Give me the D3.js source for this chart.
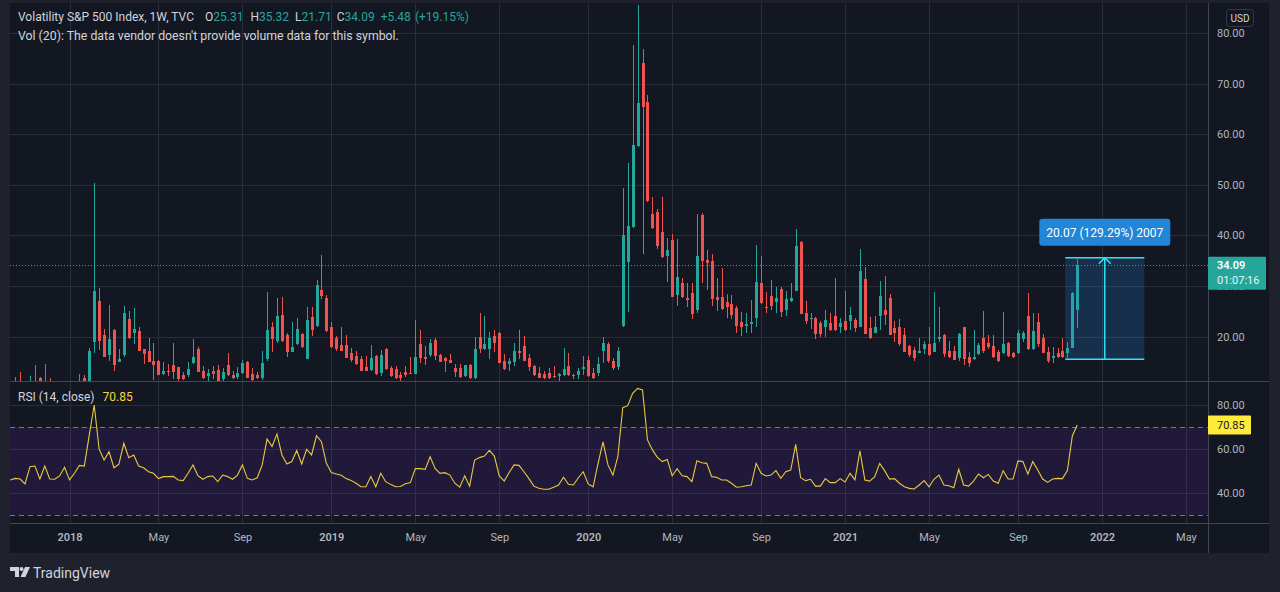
<!DOCTYPE html>
<html>
<head>
<meta charset="utf-8">
<script src="https://d3js.org/d3.v7.min.js"></script>
<style>
    body { margin: 0; background: #1f222d; }
    svg text { font-family: Roboto, "Noto Sans", sans-serif; }
</style>
</head>
<body>
<svg id="chart" width="1280" height="592"></svg>

<script>
    // TVC:VIX weekly bars, first bar is the week of 2017-10-09
    const firstWeek = "2017-10-09";

    const opens = [
        10.2, 9.8, 10.8, 10.0, 9.2, 10.5, 11.9, 9.7, 11.1, 10.3,
        10.1, 10.3, 10.9, 9.3, 10.2, 11.75, 11.1, 18.9, 27.1, 20.4,
        16.3, 21.4, 15.0, 16.3, 23.5, 20.8, 21.2, 17.5, 17.2, 15.2,
        15.2, 12.7, 13.3, 14.3, 13.9, 12.4, 12.5, 14.7, 17.5, 13.2,
        12.2, 13.2, 13.4, 11.6, 14.4, 12.4, 12.0, 12.9, 15.0, 12.6,
        12.4, 11.8, 15.6, 21.8, 19.1, 24.3, 20.4, 17.0, 18.5, 20.6,
        15.6, 23.8, 22.1, 29.2, 27.6, 21.8, 19.8, 18.4, 18.4, 16.7,
        16.2, 15.6, 13.9, 13.4, 16.2, 12.9, 17.6, 13.7, 13.5, 12.5,
        13.0, 12.8, 12.7, 18.5, 15.9, 16.4, 19.3, 16.3, 15.8, 15.4,
        13.7, 13.7, 12.2, 14.4, 11.8, 20.0, 17.5, 17.6, 20.2, 20.8,
        15.1, 14.6, 15.0, 17.2, 18.2, 15.7, 14.2, 12.8, 12.6, 12.9,
        12.2, 12.2, 12.4, 14.1, 12.3, 12.4, 13.5, 15.4, 12.8, 12.9,
        17.2, 18.5, 15.2, 13.9, 22.0, 34.7, 41.6, 57.7, 74.1, 66.3,
        44.2, 44.6, 40.7, 35.9, 39.1, 28.2, 30.5, 27.6, 28.7, 25.3,
        44.0, 35.1, 35.0, 27.8, 27.8, 26.9, 26.4, 25.7, 22.8, 22.1,
        22.5, 23.7, 30.5, 25.8, 28.0, 26.9, 29.5, 25.3, 27.1, 29.1,
        38.6, 24.6, 23.5, 23.7, 22.6, 21.8, 22.6, 24.1, 21.9, 23.0,
        23.0, 23.2, 21.9, 31.4, 21.7, 20.8, 24.1, 25.3, 27.6, 21.7,
        21.9, 20.4, 18.1, 17.4, 16.8, 17.6, 18.5, 17.0, 19.5, 20.4,
        17.2, 17.2, 15.7, 21.8, 16.0, 15.5, 16.6, 19.7, 18.7, 18.1,
        17.0, 16.7, 18.7, 16.8, 16.7, 19.5, 24.1, 17.5, 22.8, 19.8,
        17.0, 15.8, 16.7, 17.2, 16.8, 17.8, 25.31
    ];
    const highs = [
        10.6, 12.1, 13.1, 10.5, 12.2, 14.4, 12.1, 14.6, 11.8, 11.0,
        10.6, 11.1, 11.0, 10.5, 12.6, 12.4, 17.8, 50.3, 29.7, 21.5,
        26.2, 21.6, 17.5, 26.0, 25.0, 25.6, 21.9, 17.6, 19.7, 18.7,
        15.4, 15.0, 14.6, 18.7, 14.0, 13.0, 15.0, 19.5, 18.0, 14.1,
        13.5, 14.2, 14.4, 13.7, 16.8, 13.2, 14.0, 15.4, 15.1, 13.7,
        13.0, 17.2, 28.8, 22.8, 27.6, 27.8, 20.8, 22.9, 23.6, 20.7,
        25.8, 25.9, 31.2, 36.2, 28.3, 22.8, 20.1, 21.9, 20.3, 17.8,
        17.2, 16.1, 16.1, 18.3, 16.4, 17.3, 17.8, 14.2, 14.1, 13.0,
        14.1, 15.9, 23.3, 21.3, 18.1, 19.6, 19.8, 16.5, 16.0, 16.6,
        14.6, 14.6, 14.4, 14.5, 20.0, 24.7, 24.0, 21.0, 21.4, 21.0,
        16.6, 15.7, 18.7, 21.3, 20.2, 16.6, 14.3, 14.0, 13.3, 13.8,
        14.1, 12.8, 17.8, 16.7, 12.6, 13.7, 16.1, 16.2, 13.7, 15.9,
        20.0, 18.9, 15.8, 17.9, 49.4, 54.4, 77.6, 85.5, 76.9, 67.8,
        47.5, 45.2, 47.6, 39.5, 40.3, 39.3, 31.5, 30.5, 30.5, 44.2,
        44.4, 37.1, 36.3, 31.5, 33.6, 28.4, 28.3, 26.1, 24.9, 24.6,
        27.2, 38.1, 36.0, 28.8, 31.2, 29.9, 29.9, 29.1, 30.5, 41.2,
        38.9, 27.1, 24.6, 23.8, 23.0, 25.3, 24.7, 31.5, 23.7, 29.1,
        25.9, 23.7, 37.4, 33.8, 23.9, 24.1, 31.0, 31.9, 28.4, 23.1,
        23.4, 21.7, 18.3, 17.9, 19.8, 19.1, 21.8, 28.8, 25.9, 20.5,
        19.1, 18.2, 20.7, 21.9, 17.0, 21.3, 18.8, 25.1, 20.4, 20.4,
        17.4, 24.8, 19.0, 17.0, 21.3, 21.2, 28.7, 24.6, 24.6, 20.5,
        18.0, 18.0, 17.7, 19.8, 19.0, 28.9, 35.32
    ];
    const lows = [
        9.2, 9.2, 9.5, 9.0, 9.0, 10.4, 9.6, 9.4, 9.5, 9.4,
        9.4, 9.6, 8.9, 9.2, 10.0, 10.6, 10.9, 16.8, 17.4, 15.9,
        15.2, 13.3, 14.9, 16.0, 19.6, 18.5, 17.1, 14.6, 14.9, 11.5,
        12.4, 12.5, 12.3, 11.6, 11.3, 11.5, 12.1, 14.5, 13.0, 11.6,
        11.3, 11.6, 10.8, 11.1, 12.3, 11.6, 11.7, 12.7, 11.8, 11.2,
        11.6, 11.5, 15.2, 17.0, 18.7, 19.0, 16.0, 16.9, 18.4, 17.8,
        15.5, 20.2, 21.8, 27.4, 21.0, 17.8, 17.2, 17.1, 15.7, 15.0,
        14.4, 13.2, 13.2, 13.2, 12.5, 12.3, 13.4, 12.0, 11.7, 11.2,
        12.1, 12.6, 12.6, 14.8, 14.4, 15.9, 15.3, 14.9, 13.1, 14.7,
        12.0, 11.9, 12.1, 11.6, 11.7, 16.8, 17.4, 15.5, 17.0, 14.7,
        13.4, 13.3, 14.1, 15.6, 15.1, 13.3, 12.3, 11.8, 11.7, 11.7,
        11.9, 11.2, 12.3, 12.2, 11.6, 11.6, 12.5, 12.1, 11.6, 12.2,
        14.8, 14.7, 13.4, 13.4, 21.9, 24.9, 41.5, 57.5, 36.3, 46.6,
        41.3, 37.4, 35.6, 30.7, 27.8, 26.0, 27.7, 25.9, 23.5, 24.6,
        30.5, 29.3, 26.0, 25.1, 25.3, 23.6, 23.4, 20.8, 20.2, 20.8,
        20.8, 21.8, 26.5, 24.7, 25.3, 24.7, 23.9, 24.1, 26.9, 29.0,
        24.4, 22.4, 21.5, 19.5, 20.0, 20.0, 21.1, 21.2, 20.8, 21.2,
        21.4, 21.0, 21.8, 20.5, 19.6, 20.7, 21.3, 22.3, 20.3, 19.0,
        18.2, 16.9, 16.0, 15.2, 16.7, 16.6, 16.2, 16.9, 18.9, 15.9,
        15.8, 15.3, 15.2, 14.3, 14.0, 15.4, 16.3, 16.7, 17.5, 15.7,
        15.0, 16.6, 16.0, 15.8, 16.6, 19.0, 17.4, 17.4, 18.0, 16.7,
        14.8, 14.7, 15.7, 15.8, 15.7, 17.7, 21.71
    ];
    const closes = [
        9.6, 10.0, 9.8, 9.1, 10.5, 11.0, 9.7, 11.0, 10.3, 10.2,
        9.9, 11.0, 9.2, 10.2, 11.1, 11.1, 17.2, 29.1, 19.1, 16.0,
        19.5, 14.4, 15.6, 24.7, 19.7, 21.5, 17.2, 16.5, 15.0, 14.4,
        12.5, 13.3, 13.0, 13.1, 11.7, 11.7, 13.6, 16.0, 13.1, 11.8,
        12.8, 12.6, 11.0, 13.0, 12.4, 11.8, 12.8, 14.8, 11.9, 11.4,
        11.9, 14.8, 21.3, 19.5, 24.1, 19.1, 17.0, 17.9, 21.5, 17.9,
        23.3, 21.4, 30.1, 28.1, 21.1, 17.9, 17.5, 17.2, 15.8, 15.3,
        14.6, 13.3, 13.3, 15.8, 12.6, 16.3, 13.5, 12.3, 11.8, 11.8,
        12.5, 12.7, 15.9, 15.7, 15.6, 18.7, 16.1, 15.0, 15.1, 14.8,
        13.1, 12.0, 14.3, 11.8, 17.6, 17.5, 18.5, 19.7, 18.7, 14.8,
        13.5, 15.1, 17.2, 16.7, 15.2, 13.9, 12.4, 11.9, 11.8, 11.8,
        12.0, 12.6, 13.5, 12.4, 12.5, 13.2, 13.9, 12.2, 11.8, 14.6,
        18.7, 15.2, 13.7, 17.1, 40.1, 41.9, 57.9, 66.1, 65.4, 46.7,
        41.4, 37.9, 35.8, 37.1, 27.9, 31.8, 27.9, 27.2, 24.4, 35.9,
        35.0, 34.6, 27.4, 27.2, 25.5, 25.8, 24.2, 22.0, 21.8, 22.4,
        22.9, 30.8, 26.7, 25.7, 26.1, 27.6, 24.8, 27.4, 27.6, 37.9,
        24.5, 23.0, 23.7, 20.6, 20.5, 23.2, 21.3, 21.3, 22.6, 21.3,
        24.3, 21.7, 33.0, 20.6, 19.8, 21.9, 28.0, 24.3, 20.4, 20.7,
        18.5, 17.0, 16.3, 15.8, 17.2, 18.5, 16.3, 18.7, 20.0, 16.6,
        16.0, 15.4, 20.6, 15.5, 14.8, 16.0, 18.3, 17.1, 17.9, 15.9,
        15.2, 18.5, 16.2, 16.0, 20.8, 20.7, 17.5, 21.1, 18.5, 16.8,
        15.2, 16.2, 16.0, 15.9, 17.8, 28.61, 34.09
    ];
    // RSI (14, close), read week by week
    const rsiValues = [
        46.0, 46.7, 46.4, 44.2, 52.0, 52.3, 46.4, 52.3, 46.4, 46.3,
        47.8, 51.7, 46.0, 49.0, 52.6, 52.3, 66.3, 79.9, 59.9, 55.0,
        58.8, 51.5, 53.1, 62.6, 56.1, 57.3, 52.3, 51.5, 49.7, 49.0,
        46.6, 47.5, 47.5, 47.6, 46.0, 45.7, 49.0, 52.8, 47.9, 46.3,
        47.5, 47.8, 45.2, 48.2, 47.5, 46.3, 48.2, 52.8, 46.7, 46.0,
        47.0, 52.8, 64.5, 61.1, 66.8, 57.3, 53.2, 54.3, 59.3, 53.2,
        59.9, 57.3, 66.0, 63.3, 53.5, 49.4, 48.7, 48.1, 46.6, 45.8,
        44.5, 42.9, 42.9, 47.5, 42.9, 49.0, 45.2, 44.0, 42.9, 43.0,
        44.3, 44.8, 51.2, 51.1, 50.8, 56.5, 51.2, 49.0, 49.3, 48.2,
        44.5, 42.7, 47.9, 43.2, 55.0, 56.1, 56.8, 59.4, 56.8, 47.8,
        45.5, 49.4, 52.8, 52.6, 49.7, 46.6, 43.2, 42.2, 41.8, 41.8,
        42.7, 43.7, 47.2, 44.0, 43.7, 47.0, 49.7, 44.2, 42.9, 53.5,
        63.2, 52.8, 48.2, 56.5, 78.7, 79.6, 85.2, 87.4, 86.7, 64.1,
        59.6, 56.2, 54.3, 55.3, 47.9, 51.1, 47.9, 47.5, 45.2, 54.7,
        53.8, 53.5, 47.5, 47.2, 46.0, 46.0, 44.5, 42.7, 42.9, 43.4,
        43.7, 53.5, 49.0, 47.8, 48.2, 50.2, 46.7, 49.7, 50.5, 62.1,
        47.0, 45.7, 46.3, 43.2, 43.2, 46.6, 44.8, 44.8, 46.6, 45.1,
        49.0, 46.0, 59.2, 46.0, 45.5, 47.5, 53.5, 50.2, 46.4, 46.6,
        44.5, 42.9, 42.2, 41.9, 43.7, 45.7, 42.9, 46.3, 48.2, 43.7,
        43.4, 42.5, 50.8, 43.7, 43.2, 45.5, 48.7, 47.0, 48.5, 45.5,
        44.5, 50.2, 46.4, 46.4, 54.6, 54.3, 48.7, 54.3, 50.5, 46.4,
        44.9, 46.4, 46.7, 46.6, 50.2, 65.9, 70.85
    ];

    const priceTicks = [20, 30, 40, 50, 60, 70, 80];
    const rsiTicks = [40, 60, 80];
    const rsiLevels = [30, 70];
    const timeTicks = ["2018-01-01", "2018-05-07", "2018-09-03", "2019-01-07", "2019-05-06", "2019-09-02",
        "2020-01-06", "2020-05-04", "2020-09-07", "2021-01-04", "2021-05-03", "2021-09-06",
        "2022-01-03", "2022-05-02"];
    const timeLabels = ["2018", "May", "Sep", "2019", "May", "Sep", "2020", "May", "Sep",
        "2021", "May", "Sep", "2022", "May"];

    const symbolTitle = "Volatility S&P 500 Index, 1W, TVC";
    const volNote = "Vol (20): The data vendor doesn't provide volume data for this symbol.";
    const countdown = "01:07:16";
    // price range tool
    const rangeFrom = 15.523, rangeTo = 35.593;
    const rangeDates = ["2021-11-12", "2022-03-04"];

    const teal = "#26a69a", red = "#ef5350", gridC = "#2a2e39", textC = "#b2b5be";

    const svg = d3.select("#chart");
    const parse = d3.utcParse("%Y-%m-%d");
    const t0 = parse(firstWeek);
    let bars = opens.map((o, k) => ({
        date: d3.utcDay.offset(t0, 7 * k),
        o: o, h: highs[k], l: lows[k], c: closes[k], r: rsiValues[k]
    }));
    let last = bars[bars.length - 1], prev = bars[bars.length - 2];

    // layout
    let padL = 10, padR = 1208, padT = 3, mainB = 381, rsiB = 523, outR = 1269, outB = 553;

    let x = d3.scaleUtc().domain([parse("2018-01-01"), parse("2022-01-03")]).range([69.5, 69.5 + 209 * 4.94]);
    let y = d3.scaleLinear().domain([20, 80]).range([336.6, 33]);
    let yr = d3.scaleLinear().domain([40, 80]).range([493.2, 404.8]);

    svg.append("rect").attr("width", 1280).attr("height", 592).attr("fill", "#1f222d");
    svg.append("rect").attr("x", padL).attr("y", padT).attr("width", outR - padL).attr("height", outB - padT)
        .attr("fill", "#131722");

    let defs = svg.append("defs");
    defs.append("clipPath").attr("id", "mainClip").append("rect")
        .attr("x", padL).attr("y", padT).attr("width", padR - padL).attr("height", mainB - padT);
    defs.append("clipPath").attr("id", "rsiClip").append("rect")
        .attr("x", padL).attr("y", mainB).attr("width", padR - padL).attr("height", rsiB - mainB);

    // grid
    let grid = svg.append("g").attr("stroke", gridC).attr("shape-rendering", "crispEdges");
    grid.selectAll(".hgrid").data(priceTicks).join("line").attr("class", "hgrid")
        .attr("x1", padL).attr("x2", padR).attr("y1", d => Math.round(y(d)) + 0.5).attr("y2", d => Math.round(y(d)) + 0.5);
    grid.selectAll(".rgrid").data(rsiTicks).join("line").attr("class", "rgrid")
        .attr("x1", padL).attr("x2", padR).attr("y1", d => Math.round(yr(d)) + 0.5).attr("y2", d => Math.round(yr(d)) + 0.5);
    grid.selectAll(".vgrid").data(timeTicks).join("line").attr("class", "vgrid")
        .attr("x1", d => Math.round(x(parse(d))) + 0.5).attr("x2", d => Math.round(x(parse(d))) + 0.5)
        .attr("y1", padT).attr("y2", rsiB);

    // RSI band + levels
    svg.append("rect").attr("x", padL).attr("width", padR - padL)
        .attr("y", yr(70)).attr("height", yr(30) - yr(70))
        .attr("fill", "rgba(126,40,220,0.13)");
    svg.selectAll(".level").data(rsiLevels).join("line").attr("class", "level")
        .attr("x1", padL).attr("x2", padR).attr("y1", d => Math.round(yr(d)) + 0.5).attr("y2", d => Math.round(yr(d)) + 0.5)
        .attr("stroke", "#787b86").attr("stroke-dasharray", "5,4");

    svg.append("path").datum(bars)
        .attr("clip-path", "url(#rsiClip)")
        .attr("fill", "none").attr("stroke", "#e8c93f").attr("stroke-width", 1.1)
        .attr("d", d3.line().x(d => x(d.date)).y(d => yr(d.r)));

    // candles
    let cg = svg.append("g").attr("clip-path", "url(#mainClip)").attr("shape-rendering", "crispEdges");
    let candle = cg.selectAll("g").data(bars).join("g");
    candle.append("line")
        .attr("x1", d => Math.round(x(d.date)) + 0.5).attr("x2", d => Math.round(x(d.date)) + 0.5)
        .attr("y1", d => y(d.h)).attr("y2", d => y(d.l))
        .attr("stroke", d => d.c >= d.o ? teal : red);
    candle.append("rect")
        .attr("x", d => Math.round(x(d.date)) - 1).attr("width", 3)
        .attr("y", d => y(Math.max(d.o, d.c)))
        .attr("height", d => Math.max(1, Math.abs(y(d.o) - y(d.c))))
        .attr("fill", d => d.c >= d.o ? teal : red);

    // last price line
    svg.append("line").attr("x1", padL).attr("x2", padR)
        .attr("y1", Math.round(y(last.c)) + 0.5).attr("y2", Math.round(y(last.c)) + 0.5)
        .attr("stroke", teal).attr("stroke-dasharray", "1,2");

    // price range tool
    let rx0 = x(parse(rangeDates[0])), rx1 = x(parse(rangeDates[1])), rcx = (rx0 + rx1) / 2;
    let ry0 = y(rangeFrom), ry1 = y(rangeTo);
    let rg = svg.append("g");
    rg.append("rect").attr("x", rx0).attr("y", ry1).attr("width", rx1 - rx0).attr("height", ry0 - ry1)
        .attr("fill", "rgba(33,150,243,0.2)");
    rg.selectAll(".edge").data([rangeFrom, rangeTo]).join("line").attr("class", "edge")
        .attr("x1", rx0).attr("x2", rx1).attr("y1", d => y(d)).attr("y2", d => y(d))
        .attr("stroke", "#2ee5f0").attr("stroke-width", 1.5);
    rg.append("line").attr("x1", rcx).attr("x2", rcx).attr("y1", ry0).attr("y2", ry1)
        .attr("stroke", "#2ee5f0").attr("stroke-width", 1.5);
    rg.append("path").attr("d", `M${rcx - 6},${ry1 + 6}L${rcx},${ry1}L${rcx + 6},${ry1 + 6}`)
        .attr("fill", "none").attr("stroke", "#2ee5f0").attr("stroke-width", 1.5);
    let diff = rangeTo - rangeFrom;
    let rangeText = `${diff.toFixed(2)} (${(diff / rangeFrom * 100).toFixed(2)}%) ${Math.round(diff / 0.01)}`;
    rg.append("rect").attr("x", rcx - 65.5).attr("y", ry1 - 39).attr("width", 131).attr("height", 27).attr("rx", 3)
        .attr("fill", "#2185d8");
    rg.append("text").attr("x", rcx).attr("y", ry1 - 21).attr("text-anchor", "middle")
        .attr("fill", "#ffffff").attr("font-size", 12).text(rangeText);

    // separators
    let sep = svg.append("g").attr("stroke", "#434651").attr("shape-rendering", "crispEdges");
    sep.append("line").attr("x1", padL).attr("x2", outR).attr("y1", mainB + 0.5).attr("y2", mainB + 0.5);
    sep.append("line").attr("x1", padL).attr("x2", outR).attr("y1", rsiB + 0.5).attr("y2", rsiB + 0.5);
    sep.append("line").attr("x1", padR + 0.5).attr("x2", padR + 0.5).attr("y1", padT).attr("y2", outB);

    // axes
    let styleAxis = g => {
        g.select(".domain").remove();
        g.selectAll("text").attr("fill", textC).attr("font-size", 11);
    };
    svg.append("g").attr("transform", `translate(${padR},0)`)
        .call(d3.axisRight(y).tickValues(priceTicks).tickFormat(d3.format(".2f")).tickSize(0).tickPadding(9))
        .call(styleAxis);
    svg.append("g").attr("transform", `translate(${padR},0)`)
        .call(d3.axisRight(yr).tickValues(rsiTicks).tickFormat(d3.format(".2f")).tickSize(0).tickPadding(9))
        .call(styleAxis);
    svg.append("g").attr("transform", `translate(0,${rsiB})`)
        .call(d3.axisBottom(x).tickValues(timeTicks.map(parse)).tickFormat((d, i) => timeLabels[i]).tickSize(0).tickPadding(10))
        .call(styleAxis)
        .call(g => g.selectAll("text").attr("font-weight", (d, i) => /^\d/.test(timeLabels[i]) ? 600 : 400));

    // last price label (covers the 30.00 tick as in TradingView)
    let ly = y(last.c);
    svg.append("rect").attr("x", padR).attr("y", ly - 8.5).attr("width", 58).attr("height", 33).attr("rx", 1).attr("fill", teal);
    svg.append("text").attr("x", padR + 9).attr("y", ly + 4).attr("fill", "#ffffff").attr("font-size", 11)
        .attr("font-weight", 600).text(last.c.toFixed(2));
    svg.append("text").attr("x", padR + 9).attr("y", ly + 19).attr("fill", "#e8f5f3").attr("font-size", 11).text(countdown);

    // RSI label
    let lr = yr(last.r);
    svg.append("rect").attr("x", padR).attr("y", lr - 9.5).attr("width", 43).attr("height", 19).attr("rx", 1).attr("fill", "#ffeb3b");
    svg.append("text").attr("x", padR + 9).attr("y", lr + 4).attr("fill", "#131722").attr("font-size", 11).text(last.r.toFixed(2));

    // USD
    svg.append("rect").attr("x", 1226.5).attr("y", 9.5).attr("width", 27).attr("height", 17).attr("rx", 3)
        .attr("fill", "none").attr("stroke", "#363a45");
    svg.append("text").attr("x", 1240).attr("y", 22).attr("text-anchor", "middle").attr("fill", "#d1d4dc")
        .attr("font-size", 10).text("USD");

    // legend
    let chg = last.c - prev.c;
    let head = svg.append("text").attr("x", 18).attr("y", 21).attr("font-size", 12).attr("fill", "#d1d4dc");
    head.append("tspan").text(symbolTitle);
    [["O", last.o, 11], ["H", last.h, 7], ["L", last.l, 6], ["C", last.c, 5]].forEach(([k, v, gap]) => {
        head.append("tspan").attr("dx", gap).text(k);
        head.append("tspan").attr("fill", teal).text(v.toFixed(2));
    });
    head.append("tspan").attr("dx", 6).attr("fill", teal).text("+" + chg.toFixed(2));
    head.append("tspan").attr("dx", 4).attr("fill", teal).text(`(+${(chg / prev.c * 100).toFixed(2)}%)`);
    svg.append("text").attr("x", 18).attr("y", 40).attr("font-size", 12.3).attr("fill", "#d1d4dc").text(volNote);

    let rsiHead = svg.append("text").attr("x", 18).attr("y", 401).attr("font-size", 12).attr("fill", "#d1d4dc");
    rsiHead.append("tspan").text("RSI (14, close)");
    rsiHead.append("tspan").attr("dx", 8).attr("fill", "#f5d63d").text(last.r.toFixed(2));

    // TradingView mark
    let logo = svg.append("g").attr("fill", "#d1d4dc");
    logo.append("path").attr("d", "M10,567h9v10h-4v-6h-5z");
    logo.append("circle").attr("cx", 21.5).attr("cy", 569).attr("r", 2);
    logo.append("path").attr("d", "M25,567h5l-4.5,10h-5z");
    logo.append("text").attr("x", 33).attr("y", 578).attr("font-size", 14).attr("fill", "#d1d4dc").text("TradingView");
</script>
</body>
</html>
